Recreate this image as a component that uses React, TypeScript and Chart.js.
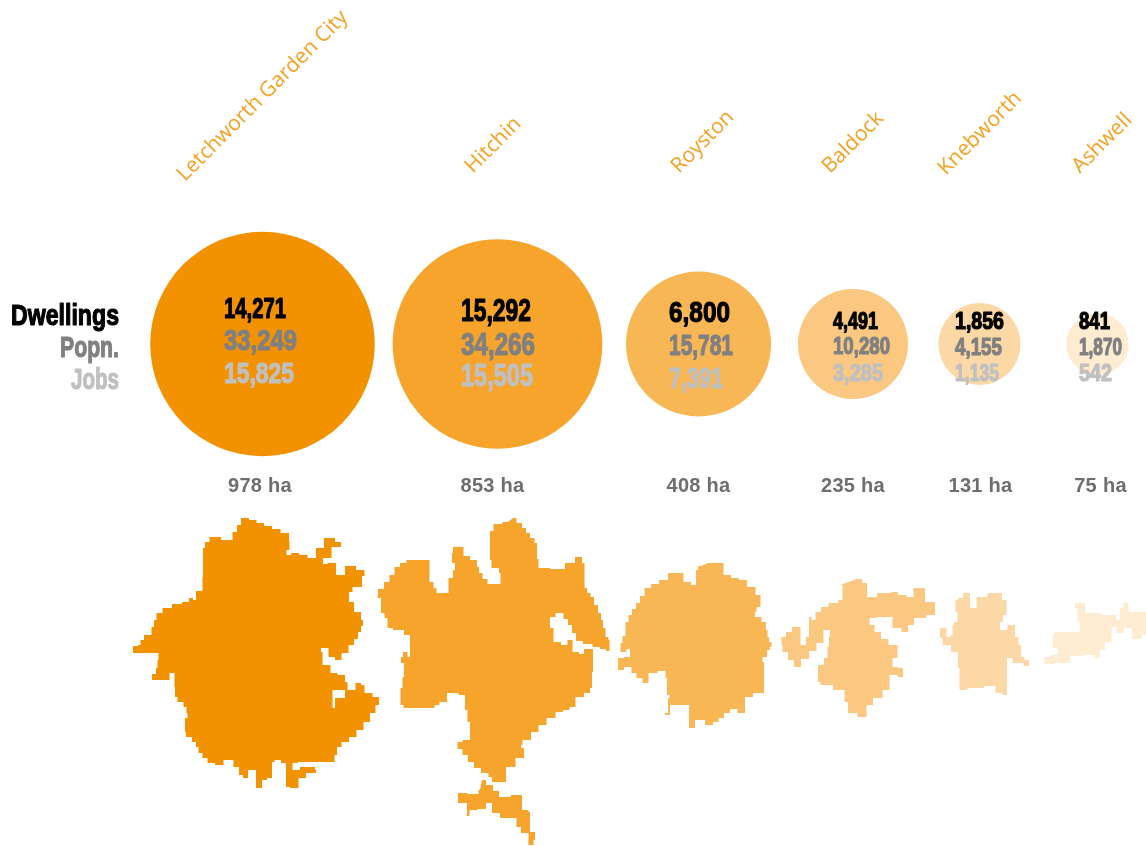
import React, { useEffect, useRef } from "react";
import { Chart, registerables } from "chart.js";

Chart.register(...registerables);

const towns = ["Letchworth Garden City", "Hitchin", "Royston", "Baldock", "Knebworth", "Ashwell"];
const dwellings = ["14,271", "15,292", "6,800", "4,491", "1,856", "841"];
const population = ["33,249", "34,266", "15,781", "10,280", "4,155", "1,870"];
const jobs = ["15,825", "15,505", "7,391", "3,285", "1,135", "542"];
const hectares = [978, 853, 408, 235, 131, 75];
const rowLabels = ["Dwellings", "Popn.", "Jobs"];

// Map outlines of each town, in the chart's own x / y scale units
const letchworthOutline = [[245,518],[253,520],[260,523],[268,526],[276,529],[285,533],[293,541],[286,550],[287,555],[295,553],[303,555],[312,558],[320,548],[328,538],[342,542],[340,547],[323,558],[323,564],[332,563],[340,575],[350,566],[362,570],[367,576],[357,587],[348,592],[350,602],[358,612],[364,620],[362,626],[360,632],[356,639],[352,645],[345,653],[338,660],[332,657],[325,648],[317,652],[328,665],[333,673],[342,675],[348,682],[347,690],[337,690],[328,708],[333,708],[337,698],[353,690],[358,683],[364,685],[365,693],[380,697],[378,705],[373,713],[367,722],[360,730],[353,737],[345,742],[338,747],[336,755],[333,762],[303,762],[293,763],[292,770],[308,767],[322,770],[310,773],[302,778],[295,788],[285,787],[287,773],[285,763],[277,760],[272,762],[272,778],[262,780],[262,788],[257,788],[255,770],[248,770],[248,778],[238,775],[240,767],[227,760],[220,765],[210,763],[205,758],[200,753],[197,747],[195,742],[189,737],[183,732],[187,718],[188,713],[185,707],[182,702],[173,697],[177,687],[172,673],[167,680],[152,680],[152,674],[160,668],[155,668],[160,660],[157,653],[148,653],[133,653],[133,646],[143,645],[138,640],[150,635],[153,627],[155,620],[158,613],[167,608],[177,604],[187,602],[191,598],[195,600],[197,591],[202,591],[203,577],[203,565],[203,548],[207,542],[212,537],[230,540],[235,532],[239,525],[243,518]];
const hitchinOutline = [[513,518],[520,523],[524,528],[528,533],[532,538],[537,543],[537,559],[540,568],[560,569],[570,563],[580,557],[584,563],[585,588],[589,593],[592,597],[596,605],[600,613],[602,620],[604,628],[607,637],[610,640],[609,651],[603,649],[597,647],[588,644],[578,641],[574,633],[570,625],[566,619],[561,613],[550,617],[550,628],[557,642],[565,645],[570,640],[575,652],[583,654],[585,649],[592,649],[594,672],[590,688],[590,693],[578,697],[573,707],[566,710],[560,712],[551,718],[542,725],[535,732],[527,740],[518,745],[524,748],[524,758],[507,767],[505,782],[492,782],[492,777],[485,773],[477,768],[471,762],[465,755],[460,749],[455,742],[470,740],[470,722],[465,710],[465,695],[452,693],[442,702],[437,705],[432,708],[420,708],[407,708],[400,705],[401,688],[404,677],[404,663],[401,663],[401,657],[405,652],[410,657],[410,635],[398,630],[388,628],[387,618],[382,613],[380,598],[375,596],[381,589],[387,582],[392,575],[397,567],[403,563],[410,560],[427,560],[432,582],[435,588],[438,593],[445,593],[452,578],[454,570],[456,563],[448,553],[458,547],[463,547],[464,556],[476,560],[478,567],[480,573],[485,579],[490,584],[496,584],[505,573],[493,568],[490,560],[490,531],[497,524],[508,522]];
const hitchinIslandOutline = [[482,780],[490,785],[496,791],[502,797],[520,795],[524,810],[533,812],[527,815],[533,832],[537,840],[530,845],[527,833],[515,827],[518,818],[503,818],[497,813],[487,803],[485,809],[470,810],[469,816],[464,815],[470,803],[458,803],[458,793],[477,794],[480,790]];
const roystonOutline = [[708,563],[720,563],[727,575],[735,578],[743,580],[751,587],[760,595],[761,607],[752,612],[758,617],[765,622],[767,630],[768,637],[770,642],[773,647],[767,650],[767,657],[758,662],[764,662],[764,693],[742,697],[748,710],[742,713],[733,709],[727,713],[721,718],[716,722],[710,725],[700,720],[690,728],[688,705],[673,705],[667,715],[663,713],[673,698],[666,695],[668,678],[663,671],[652,673],[645,683],[640,678],[633,673],[630,667],[618,670],[618,658],[630,657],[630,649],[623,652],[618,643],[627,636],[624,630],[627,622],[630,615],[634,609],[638,603],[642,596],[647,588],[655,584],[663,580],[673,573],[682,573],[685,582],[697,585],[695,570],[701,566]];
const baldockOutline = [[857,579],[867,583],[867,597],[887,593],[896,592],[900,595],[913,597],[914,588],[925,588],[925,602],[935,602],[935,615],[917,618],[911,625],[905,632],[898,628],[887,617],[867,618],[872,625],[877,632],[885,639],[892,645],[903,649],[892,658],[893,667],[903,668],[903,677],[892,675],[887,690],[878,698],[868,705],[865,717],[850,713],[846,702],[843,690],[823,685],[818,682],[818,665],[830,658],[825,647],[833,637],[827,630],[820,643],[813,651],[805,659],[797,667],[791,660],[785,652],[780,645],[783,637],[789,632],[795,627],[803,627],[798,642],[803,645],[809,637],[809,617],[814,620],[817,612],[825,607],[832,603],[845,600],[840,585]];
const knebworthOutline = [[963,593],[968,593],[972,608],[975,608],[978,597],[997,593],[1007,600],[1006,615],[1000,622],[1000,630],[1015,625],[1015,637],[1022,645],[1020,657],[1029,660],[1029,666],[1018,663],[1007,658],[1007,695],[998,693],[993,686],[975,688],[960,690],[959,668],[957,652],[945,645],[940,638],[940,628],[946,628],[947,637],[954,635],[951,625],[957,622],[958,612],[953,600],[963,598]];
const ashwellOutline = [[1075,603],[1080,603],[1090,613],[1112,615],[1120,620],[1120,608],[1127,603],[1130,612],[1146,612],[1146,635],[1137,639],[1127,628],[1120,633],[1113,627],[1110,642],[1100,650],[1100,658],[1090,655],[1075,656],[1065,663],[1045,664],[1043,657],[1058,655],[1058,648],[1047,635],[1062,632],[1077,632],[1083,622],[1075,622],[1080,615],[1075,608]];

// Layout and style, kept apart from the values
const W = 1146;
const H = 846;
const bubbleX = [262.5, 497.5, 698.5, 853, 979.5, 1097.5];
const bubbleY = 344;
const radiusPerRootHa = 3.59;
const colours = ["#F39200", "#F6A42B", "#F8B655", "#FAC880", "#FBD8A6", "#FDEBD2"];
const numberX = [224, 461, 669, 833, 955, 1079];
const rowY = [
  [310, 342, 375],
  [312, 346, 377],
  [314, 347, 380],
  [322, 347, 374],
  [322, 348, 374],
  [322, 348, 374],
];
const numberWidth = [
  [62, 73, 70],
  [70, 74, 72],
  [61, 64, 54],
  [45, 57, 50],
  [49, 47, 44],
  [31, 43, 33],
];
const numberSize = [30, 31, 30, 24, 24, 24];
const rowColours = ["#000000", "#808080", "#C0C0C0"];
const legendY = [317, 349, 381];
const legendWidth = [108, 59, 48];
const haX = [260, 492.5, 698.5, 853, 980.5, 1100.5];
const haY = 486;
const townStart = [[185, 182], [473, 174], [679, 174], [830, 174], [946, 176], [1080, 174]];

const toPts = (o: number[][]) => o.map(([x, y]) => ({ x, y }));
const shape = (o: number[][], colour: string) => ({
  type: "line" as const,
  data: toPts(o),
  showLine: true,
  fill: "shape" as any,
  stepped: "middle" as const,
  backgroundColor: colour,
  borderColor: colour,
  borderWidth: 0,
  pointRadius: 0,
  order: 2,
  clip: false as any,
});

function condensed(ctx: CanvasRenderingContext2D, text: string, x: number, y: number, size: number, colour: string, align: "left" | "right", width: number) {
  ctx.save();
  ctx.font = `bold ${size}px "Liberation Sans Narrow", "Liberation Sans"`;
  ctx.textAlign = align;
  ctx.textBaseline = "middle";
  ctx.fillStyle = colour;
  ctx.strokeStyle = colour;
  ctx.lineWidth = 1.2;
  ctx.lineJoin = "round";
  ctx.strokeText(text, x, y, width);
  ctx.fillText(text, x, y, width);
  ctx.restore();
}

const textPlugin = {
  id: "townText",
  afterDatasetsDraw(chart: any) {
    const { ctx, scales } = chart;
    const px = (v: number) => scales.x.getPixelForValue(v);
    const py = (v: number) => scales.y.getPixelForValue(v);
    const rows = [dwellings, population, jobs];

    towns.forEach((t, i) => {
      rows.forEach((row, r) => {
        condensed(ctx, row[i], px(numberX[i]), py(rowY[i][r]), numberSize[i], rowColours[r], "left", numberWidth[i][r]);
      });

      ctx.save();
      ctx.font = 'bold 20px "Liberation Sans"';
      (ctx as any).letterSpacing = "0.3px";
      ctx.textAlign = "center";
      ctx.textBaseline = "middle";
      ctx.fillStyle = "#6E6E6E";
      ctx.fillText(`${hectares[i]} ha`, px(haX[i]), py(haY));
      ctx.restore();

      ctx.save();
      ctx.translate(px(townStart[i][0]), py(townStart[i][1]));
      ctx.rotate(-Math.PI / 4);
      ctx.font = '21px "Open Sans"';
      ctx.textAlign = "left";
      ctx.textBaseline = "alphabetic";
      ctx.fillStyle = "#F5A020";
      ctx.fillText(t, 0, 0);
      ctx.restore();
    });

    rowLabels.forEach((l, r) => {
      condensed(ctx, l, px(119), py(legendY[r]), 30, rowColours[r], "right", legendWidth[r]);
    });
  },
};

export default function App() {
  const ref = useRef<HTMLCanvasElement>(null);
  useEffect(() => {
    const chart = new Chart(ref.current!, {
      type: "scatter",
      data: {
        datasets: [
          {
            type: "bubble" as const,
            data: hectares.map((ha, i) => ({ x: bubbleX[i], y: bubbleY, r: radiusPerRootHa * Math.sqrt(ha) })),
            backgroundColor: colours,
            borderWidth: 0,
            order: 1,
          } as any,
          shape(letchworthOutline, colours[0]),
          shape(hitchinOutline, colours[1]),
          shape(hitchinIslandOutline, colours[1]),
          shape(roystonOutline, colours[2]),
          shape(baldockOutline, colours[3]),
          shape(knebworthOutline, colours[4]),
          shape(ashwellOutline, colours[5]),
        ],
      },
      options: {
        animation: false,
        responsive: false,
        events: [],
        layout: { padding: 0, autoPadding: false },
        plugins: { legend: { display: false }, tooltip: { enabled: false } },
        scales: {
          x: { type: "linear", min: 0, max: W, display: false },
          y: { type: "linear", min: 0, max: H, reverse: true, display: false },
        },
      },
      plugins: [textPlugin],
    } as any);
    return () => chart.destroy();
  }, []);
  return (
    <div style={{ position: "absolute", left: 0, top: 0, width: W, height: H, background: "#fff" }}>
      <canvas ref={ref} width={W} height={H} style={{ display: "block" }} />
    </div>
  );
}
